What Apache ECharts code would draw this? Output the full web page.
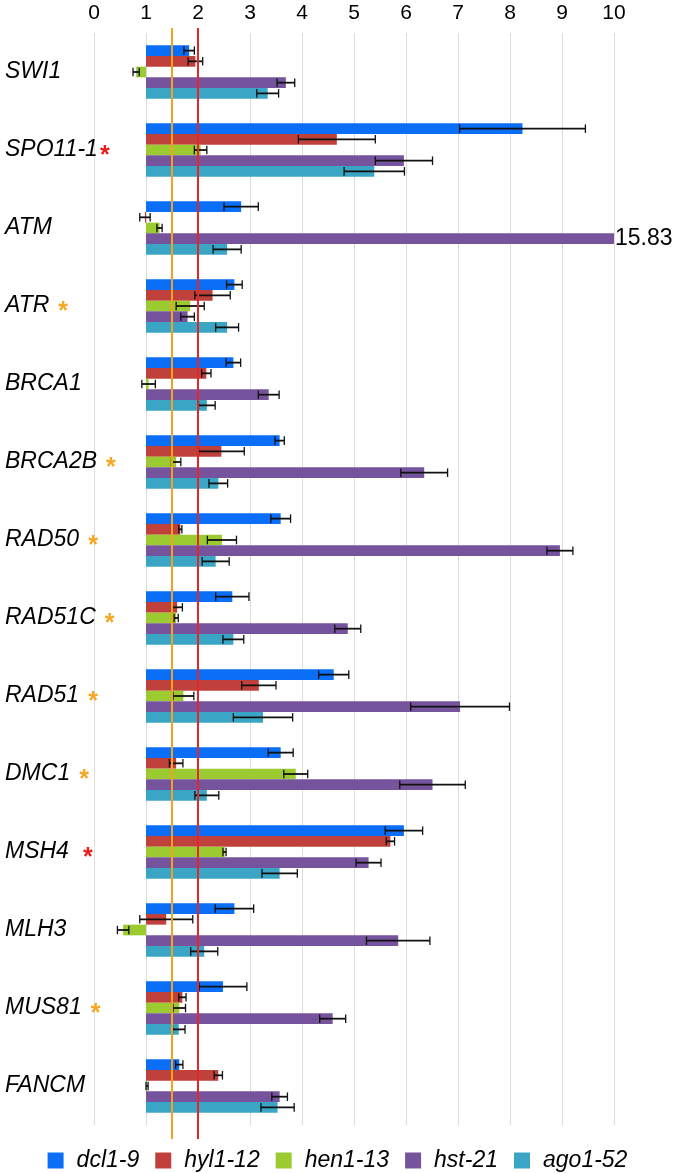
<!DOCTYPE html>
<html>
<head>
<meta charset="utf-8">
<script src="https://cdn.jsdelivr.net/npm/echarts@6/dist/echarts.min.js"></script>
<style>
  html, body { margin: 0; padding: 0; background: #fff; }
  #chart { width: 675px; height: 1173px; }
</style>
</head>
<body>
<div id="chart"></div>
<script>
// genes, top to bottom
var genes = ['SWI1', 'SPO11-1', 'ATM', 'ATR', 'BRCA1', 'BRCA2B', 'RAD50', 'RAD51C',
             'RAD51', 'DMC1', 'MSH4', 'MLH3', 'MUS81', 'FANCM'];
// asterisk after the gene name: r = red, o = orange
var marks = ['', 'rt', '', 'o', '', 'o', 'o', 'o', 'o', 'o', 'r', '', 'o', ''];

var lines = ['dcl1-9', 'hyl1-12', 'hen1-13', 'hst-21', 'ago1-52'];

// fold change, one value per gene
var dcl19  = [1.83, 8.24, 2.83, 2.70, 2.68, 3.57, 3.59, 2.66, 4.61, 3.59, 5.96, 2.70, 2.48, 1.64];
var hyl112 = [1.95, 4.67, 0.98, 2.28, 2.16, 2.45, 1.66, 1.60, 3.17, 1.58, 5.70, 1.39, 1.70, 2.39];
var hen113 = [0.81, 2.05, 1.26, 1.85, 1.05, 1.58, 2.46, 1.58, 1.72, 3.88, 2.51, 0.56, 1.64, 1.02];
var hst21  = [3.69, 5.96, 15.83, 1.80, 3.36, 6.35, 8.96, 4.88, 7.04, 6.51, 5.28, 5.85, 4.59, 3.57];
var ago152 = [3.34, 5.39, 2.56, 2.56, 2.17, 2.39, 2.34, 2.68, 3.25, 2.17, 3.57, 2.12, 1.63, 3.53];

// error bars (+/-)
var dcl19Err  = [0.10, 1.21, 0.33, 0.15, 0.14, 0.09, 0.19, 0.32, 0.29, 0.24, 0.36, 0.37, 0.46, 0.07];
var hyl112Err = [0.14, 0.74, 0.10, 0.34, 0.09, 0.44, 0.03, 0.10, 0.33, 0.13, 0.08, 0.51, 0.07, 0.08];
var hen113Err = [0.06, 0.12, 0.05, 0.27, 0.13, 0.09, 0.28, 0.04, 0.20, 0.23, 0.03, 0.11, 0.12, 0.02];
var hst21Err  = [0.17, 0.55, 0, 0.13, 0.20, 0.45, 0.25, 0.25, 0.95, 0.63, 0.24, 0.61, 0.25, 0.15];
var ago152Err = [0.21, 0.58, 0.27, 0.22, 0.16, 0.18, 0.26, 0.20, 0.57, 0.23, 0.34, 0.26, 0.12, 0.32];

var baseline = 1;
var thresholds = [1.5, 2];
var xMax = 10;

var values = [dcl19, hyl112, hen113, hst21, ago152];
var errors = [dcl19Err, hyl112Err, hen113Err, hst21Err, ago152Err];
var colors = ['#0a6ef6', '#c0413c', '#9bcb30', '#76549d', '#3aa5c4'];
var lineColors = ['#f2a21c', '#e2262a'];
var font = 'Liberation Sans, Arial, sans-serif';

var chart = echarts.init(document.getElementById('chart'));

function barRenderer(k) {
  return function (params, api) {
    var cat = api.value(0), v = api.value(1), e = api.value(2);
    var band = api.size([0, 1])[1];
    var bh = band * 0.137;
    var cy = api.coord([0, cat])[1];
    var top = cy - 2.5 * bh + k * bh;
    var mid = top + bh / 2;
    var x1 = api.coord([baseline, cat])[0];
    var vx = api.coord([Math.min(v, xMax), cat])[0];
    var kids = [{
      type: 'rect',
      shape: { x: Math.min(x1, vx), y: top, width: Math.abs(vx - x1), height: bh },
      style: { fill: colors[k] }
    }];
    if (v > xMax) {
      kids.push({
        type: 'text',
        style: { text: v.toFixed(2), x: vx + 1, y: mid, verticalAlign: 'middle',
                 font: '23px ' + font, fill: '#000' }
      });
    } else if (e > 0) {
      var a = api.coord([v - e, cat])[0], b = api.coord([v + e, cat])[0];
      var c = bh * 0.4;
      var st = { stroke: '#111', lineWidth: 1.8 };
      kids.push({ type: 'line', shape: { x1: a, y1: mid, x2: b, y2: mid }, style: st });
      kids.push({ type: 'line', shape: { x1: a, y1: mid - c, x2: a, y2: mid + c }, style: { stroke: '#111', lineWidth: 1.3 } });
      kids.push({ type: 'line', shape: { x1: b, y1: mid - c, x2: b, y2: mid + c }, style: { stroke: '#111', lineWidth: 1.3 } });
    }
    return { type: 'group', children: kids };
  };
}

var series = lines.map(function (name, k) {
  return {
    name: name,
    type: 'custom',
    renderItem: barRenderer(k),
    encode: { x: 1, y: 0 },
    itemStyle: { color: colors[k] },
    z: 2,
    data: genes.map(function (g, i) { return [i, values[k][i], errors[k][i]]; })
  };
});

series.push({
  name: 'thresholds',
  type: 'custom',
  z: 3,
  encode: { x: 0 },
  renderItem: function (params, api) {
    var x = api.coord([api.value(0), 0])[0];
    var cs = params.coordSys;
    return {
      type: 'line',
      shape: { x1: x, y1: cs.y - 5, x2: x, y2: cs.y + cs.height + 14 },
      style: { stroke: lineColors[params.dataIndex], lineWidth: 2 }
    };
  },
  data: thresholds.map(function (t) { return [t]; })
});

chart.setOption({
  animation: false,
  backgroundColor: '#fff',
  grid: { left: 94, right: 61, top: 33, bottom: 48 },
  xAxis: {
    type: 'value',
    position: 'top',
    min: 0,
    max: xMax,
    interval: 1,
    axisLine: { show: false },
    axisTick: { show: false },
    splitLine: { lineStyle: { color: '#dcdcdc', width: 1 } },
    axisLabel: { fontSize: 21, color: '#000', fontFamily: font, margin: 9 }
  },
  yAxis: {
    type: 'category',
    data: genes,
    inverse: true,
    axisLine: { show: false },
    axisTick: { show: false },
    axisLabel: {
      align: 'left',
      margin: 89,
      formatter: function (val, idx) {
        var m = marks[idx];
        return '{n|' + val + '}' + (m ? '{' + m + '|*}' : '');
      },
      rich: {
        n: { fontSize: 23, fontStyle: 'italic', color: '#000', fontFamily: font },
        r: { fontSize: 25, fontWeight: 'bold', color: '#ee1c1c', fontFamily: font, padding: [12, 0, 0, 14] },
        rt: { fontSize: 25, fontWeight: 'bold', color: '#ee1c1c', fontFamily: font, padding: [12, 0, 0, 2] },
        o: { fontSize: 25, fontWeight: 'bold', color: '#f6a623', fontFamily: font, padding: [12, 0, 0, 9] }
      }
    }
  },
  legend: {
    data: lines,
    top: 1144,
    left: 'center',
    icon: 'rect',
    itemWidth: 16,
    itemHeight: 16,
    itemGap: 16,
    textStyle: { fontSize: 23, fontStyle: 'italic', color: '#000', fontFamily: font, padding: [0, 0, 0, 8] }
  },
  series: series
});
</script>
</body>
</html>
